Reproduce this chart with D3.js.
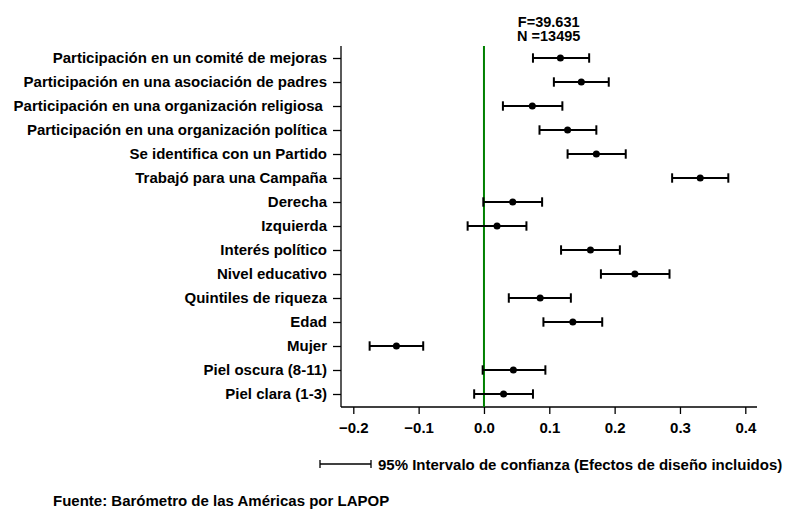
<!DOCTYPE html>
<html>
<head>
<meta charset="utf-8">
<script src="https://cdn.jsdelivr.net/npm/d3@7/dist/d3.min.js"></script>
<style>
  html, body { margin: 0; padding: 0; background: #fff; }
  svg text { font-family: "Liberation Sans", Arial, Helvetica, sans-serif; font-weight: bold; fill: #000; }
</style>
</head>
<body>
<svg id="chart" width="788" height="510"></svg>
<script>
const categories = [
  "Participación en un comité de mejoras",
  "Participación en una asociación de padres",
  "Participación en una organización religiosa ",
  "Participación en una organización política",
  "Se identifica con un Partido",
  "Trabajó para una Campaña",
  "Derecha",
  "Izquierda",
  "Interés político",
  "Nivel educativo",
  "Quintiles de riqueza",
  "Edad",
  "Mujer",
  "Piel oscura (8-11)",
  "Piel clara (1-3)"
];
const estimates = [0.117, 0.149, 0.074, 0.128, 0.172, 0.331, 0.044, 0.020, 0.163, 0.231, 0.086, 0.136, -0.134, 0.045, 0.030];
const lowerCI   = [0.075, 0.107, 0.029, 0.085, 0.128, 0.288, -0.001, -0.025, 0.118, 0.179, 0.038, 0.091, -0.175, -0.002, -0.015];
const upperCI   = [0.161, 0.191, 0.120, 0.172, 0.217, 0.374, 0.089, 0.065, 0.208, 0.284, 0.133, 0.181, -0.093, 0.094, 0.075];
const xTicks = [-0.2, -0.1, 0.0, 0.1, 0.2, 0.3, 0.4];
const statLines = ["F=39.631", "N =13495"];
const legendText = "95% Intervalo de confianza (Efectos de diseño incluidos)";
const sourceText = "Fuente: Barómetro de las Américas por LAPOP";

const svg = d3.select("#chart");
const axisLeftX = 341, axisRightX = 757, axisBottomY = 407, plotTopY = 46;
const FS = 15;

const x = d3.scaleLinear().domain([-0.2, 0.4]).range([353.3, 745.3]);
const y = d3.scalePoint().domain(categories).range([58, 394]);

// Y axis
const yAxis = svg.append("g").attr("transform", `translate(${axisLeftX},0)`)
  .call(d3.axisLeft(y).tickSize(8).tickPadding(6));
yAxis.select(".domain").remove();
yAxis.selectAll(".tick line").attr("stroke", "#000").attr("stroke-width", 1.3);
yAxis.selectAll(".tick text").attr("font-size", FS).style("white-space", "pre")
  .attr("font-family", null).attr("fill", "#000");
svg.append("line").attr("x1", axisLeftX).attr("x2", axisLeftX)
  .attr("y1", plotTopY).attr("y2", axisBottomY).attr("stroke", "#000").attr("stroke-width", 1.3);

// X axis
const xAxis = svg.append("g").attr("transform", `translate(0,${axisBottomY})`)
  .call(d3.axisBottom(x).tickValues(xTicks).tickFormat(d3.format(".1f")).tickSize(7).tickPadding(8));
xAxis.select(".domain").remove();
xAxis.selectAll(".tick line").attr("stroke", "#000").attr("stroke-width", 1.3);
xAxis.selectAll(".tick text").attr("font-size", FS).attr("font-family", null).attr("fill", "#000");
svg.append("line").attr("x1", axisLeftX).attr("x2", axisRightX)
  .attr("y1", axisBottomY).attr("y2", axisBottomY).attr("stroke", "#000").attr("stroke-width", 1.3);

// Zero reference line
svg.append("line").attr("x1", x(0)).attr("x2", x(0))
  .attr("y1", plotTopY).attr("y2", axisBottomY).attr("stroke", "#008000").attr("stroke-width", 2);

// Error bars
const capH = 4.7;
const g = svg.append("g");
categories.forEach((c, i) => {
  const yy = y(c);
  g.append("line").attr("x1", x(lowerCI[i])).attr("x2", x(upperCI[i]))
    .attr("y1", yy).attr("y2", yy).attr("stroke", "#000").attr("stroke-width", 2);
  [lowerCI[i], upperCI[i]].forEach(v => {
    g.append("line").attr("x1", x(v)).attr("x2", x(v))
      .attr("y1", yy - capH).attr("y2", yy + capH).attr("stroke", "#000").attr("stroke-width", 2);
  });
  g.append("circle").attr("cx", x(estimates[i])).attr("cy", yy).attr("r", 3.5).attr("fill", "#000");
});

// Stats (one text block, two lines)
const stat = svg.append("text").attr("text-anchor", "middle").attr("font-size", 14.5);
statLines.forEach((t, i) => {
  stat.append("tspan").attr("x", 548.7).attr("y", 26.5 + i * 14.5).text(t);
});

// Legend
const ly = 464;
svg.append("line").attr("x1", 320).attr("x2", 371).attr("y1", ly).attr("y2", ly).attr("stroke", "#000").attr("stroke-width", 1.3);
[320, 371].forEach(xx => svg.append("line").attr("x1", xx).attr("x2", xx).attr("y1", ly - 4).attr("y2", ly + 4).attr("stroke", "#000").attr("stroke-width", 1.3));
svg.append("text").attr("x", 378).attr("y", ly + 5.5).attr("font-size", FS).text(legendText);

// Source
svg.append("text").attr("x", 53).attr("y", 506).attr("font-size", FS).text(sourceText);
</script>
</body>
</html>
